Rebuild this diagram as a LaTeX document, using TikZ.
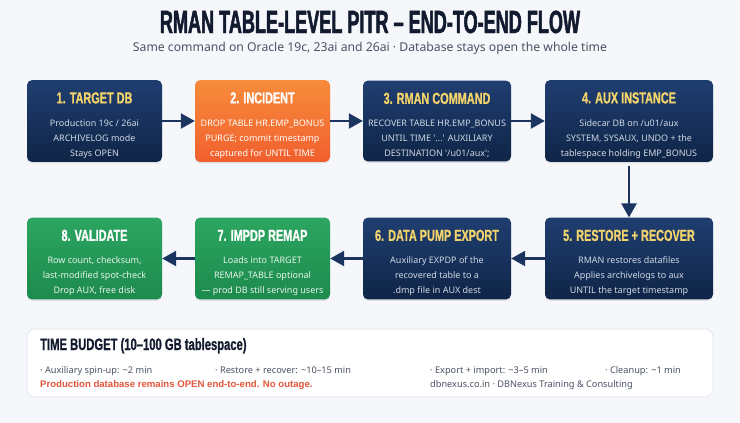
\documentclass[tikz,border=0pt]{standalone}
\usepackage{fontspec}
\setmainfont{Noto Sans}
\newfontfamily\titlefont{Liberation Sans Bold}[FakeStretch=0.565,FakeBold=1.5]
\newfontfamily\headfont{Liberation Sans Bold}[FakeStretch=0.68,FakeBold=0.8]
\newfontfamily\alertfont{Liberation Sans Bold}
\usetikzlibrary{arrows.meta,shadows}

\definecolor{pagebg}{HTML}{F5F7FB}
\definecolor{ink}{HTML}{111A2E}
\definecolor{subgray}{HTML}{4A5363}
\definecolor{navytop}{HTML}{1F3E70}
\definecolor{navybot}{HTML}{0F2547}
\definecolor{orangetop}{HTML}{F78C3B}
\definecolor{orangebot}{HTML}{F15F2E}
\definecolor{greentop}{HTML}{2CA661}
\definecolor{greenbot}{HTML}{1D8A4D}
\definecolor{boxyellow}{HTML}{F3D36B}
\definecolor{navytext}{HTML}{D0D8E4}
\definecolor{greentext}{HTML}{E6F4EA}
\definecolor{arrowblue}{HTML}{1B3560}
\definecolor{panelline}{HTML}{DCE2EA}
\definecolor{alertred}{HTML}{E2553C}

\newcommand\hd[2][boxyellow]{{\headfont\fontsize{16}{16}\selectfont\color{#1}\rule{0pt}{20pt}#2}}

\begin{document}
\begin{tikzpicture}[x=1pt,y=-1pt,
        navy/.style={top color=navytop, bottom color=navybot, text=navytext},
        orange/.style={top color=orangetop, bottom color=orangebot, text=white},
        green/.style={top color=greentop, bottom color=greenbot, text=greentext},
        budgettext/.style={anchor=base west, inner sep=0pt, text=subgray, font=\fontsize{9.2}{11}\selectfont}]

        \fill[pagebg] (0,0) rectangle (740,423);
        \useasboundingbox (0,0) rectangle (740,423);

        \node[anchor=base, text=ink] (title) at (370,33)
          {\titlefont\fontsize{32}{32}\selectfont RMAN TABLE-LEVEL PITR – END-TO-END FLOW};
        \node[anchor=base, text=subgray, font=\fontsize{12.2}{14}\selectfont] (subtitle) at (370,51)
          {Same command on Oracle 19c, 23ai and 26ai · Database stays open the whole time};

        \begin{scope}[every node/.style={rounded corners=5pt, minimum height=80pt, inner xsep=0pt,
            align=center, font=\fontsize{9}{15}\selectfont,
            drop shadow={opacity=.18, shadow xshift=0pt, shadow yshift=-1.5pt}}]
          \node[navy, minimum width=135pt]   (1) at (94.5,121)  {\hd{1. TARGET DB}\\[8pt]
            Production 19c / 26ai\\ ARCHIVELOG mode\\ Stays OPEN};
          \node[orange, minimum width=135pt] (2) at (262.5,121) {\hd[white]{2. INCIDENT}\\[8pt]
            DROP TABLE HR.EMP\_BONUS\\ PURGE; commit timestamp\\ captured for UNTIL TIME};
          \node[navy, minimum width=148pt]   (3) at (437,121)   {\hd{3. RMAN COMMAND}\\[8pt]
            RECOVER TABLE HR.EMP\_BONUS\\ UNTIL TIME \textquotesingle...\textquotesingle{} AUXILIARY\\
            DESTINATION \textquotesingle/u01/aux\textquotesingle;};
          \node[navy, minimum width=168pt]   (4) at (629,121)   {\hd{4. AUX INSTANCE}\\[8pt]
            Sidecar DB on /u01/aux\\ SYSTEM, SYSAUX, UNDO + the\\ tablespace holding EMP\_BONUS};
          \node[navy, minimum width=168pt]   (5) at (629,258.5) {\hd{5. RESTORE + RECOVER}\\[8pt]
            RMAN restores datafiles\\ Applies archivelogs to aux\\ UNTIL the target timestamp};
          \node[navy, minimum width=148pt]   (6) at (437,258.5) {\hd{6. DATA PUMP EXPORT}\\[8pt]
            Auxiliary EXPDP of the\\ recovered table to a\\ .dmp file in AUX dest};
          \node[green, minimum width=135pt]  (7) at (262.5,258.5) {\hd[white]{7. IMPDP REMAP}\\[8pt]
            Loads into TARGET\\ REMAP\_TABLE optional\\ — prod DB still serving users};
          \node[green, minimum width=135pt]  (8) at (94.5,258.5) {\hd[white]{8. VALIDATE}\\[8pt]
            Row count, checksum,\\ last-modified spot-check\\ Drop AUX, free disk};
        \end{scope}

        \begin{scope}[every edge/.style={draw=arrowblue, line width=2.4pt,
            -{Triangle[length=14pt,width=15pt]}}]
          \path (1) edge (2);
          \path (2) edge (3);
          \path (3) edge (4);
          \path (4) edge[shorten <=4pt] (5);
          \path (5) edge (6);
          \path (6) edge (7);
          \path (7) edge (8);
        \end{scope}

        \node[fill=white, draw=panelline, line width=.6pt, rounded corners=8pt,
          minimum width=686pt, minimum height=68pt] (budget) at (370,363) {};
        \node[anchor=base west, inner sep=0pt, text=ink] (budgettitle) at (40,350)
          {\headfont\fontsize{16.5}{16}\selectfont TIME BUDGET (10–100 GB tablespace)};
        \node[budgettext] (spinup)  at (40,373.3)  {· Auxiliary spin-up: \textasciitilde2 min};
        \node[budgettext] (restore) at (215,373.3) {· Restore + recover: \textasciitilde10–15 min};
        \node[budgettext] (export)  at (430,373.3) {· Export + import: \textasciitilde3–5 min};
        \node[budgettext] (cleanup) at (605,373.3) {· Cleanup: \textasciitilde1 min};
        \node[budgettext, text=alertred, font=\alertfont\fontsize{9.6}{11}\selectfont] (outage) at (40,387.3)
          {Production database remains OPEN end-to-end. No outage.};
        \node[budgettext] (site) at (430,387.3) {dbnexus.co.in · DBNexus Training \& Consulting};

      \end{tikzpicture}
\end{document}
